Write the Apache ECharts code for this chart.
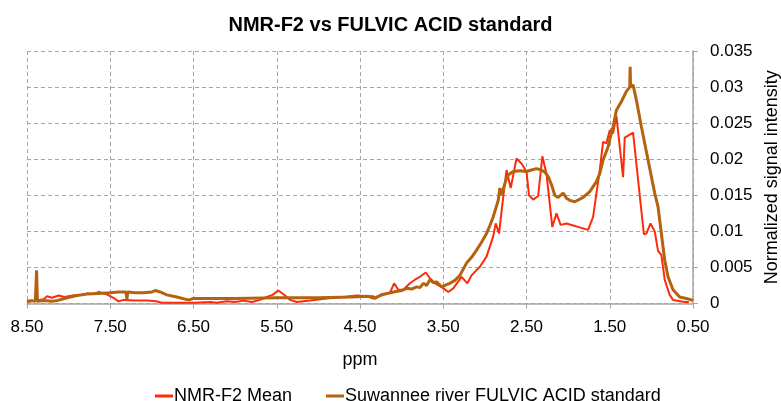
<!DOCTYPE html>
<html>
<head>
<meta charset="utf-8">
<script src="https://cdn.jsdelivr.net/npm/echarts@6/dist/echarts.min.js"></script>
<style>html,body{margin:0;padding:0;background:#fff}#c{width:781px;height:401px}</style>
</head>
<body>
<div id="c"></div>
<script>
var titleText = 'NMR-F2 vs FULVIC ACID standard';
var seriesNames = ['NMR-F2 Mean', 'Suwannee river FULVIC ACID standard'];
var xName = 'ppm';
var yName = 'Normalized signal intensity';

var redPpm = [8.50,8.40,8.30,8.26,8.20,8.12,8.05,7.95,7.85,7.78,7.70,7.64,7.58,7.53,7.45,7.40,7.34,7.20,7.05,6.95,6.88,6.70,6.50,6.30,6.22,6.10,6.00,5.90,5.80,5.70,5.62,5.55,5.48,5.40,5.34,5.26,5.10,4.90,4.70,4.54,4.40,4.34,4.31,4.24,4.14,4.09,4.04,3.98,3.90,3.84,3.78,3.71,3.66,3.60,3.52,3.44,3.38,3.28,3.21,3.16,3.06,2.98,2.90,2.87,2.83,2.77,2.74,2.69,2.62,2.56,2.50,2.47,2.42,2.36,2.31,2.26,2.19,2.14,2.09,2.02,1.76,1.70,1.62,1.58,1.54,1.50,1.46,1.42,1.34,1.32,1.22,1.09,1.06,1.01,0.96,0.92,0.88,0.84,0.78,0.74,0.60,0.55];
var redVal = [0.0002,0.0004,0.0006,0.0010,0.0008,0.0011,0.0009,0.0011,0.0012,0.0014,0.0013,0.0016,0.0014,0.0012,0.0007,0.0003,0.0005,0.0004,0.0004,0.0003,0.0001,0.0001,0.0001,0.0002,0.0001,0.0003,0.0002,0.0004,0.0002,0.0005,0.0009,0.0012,0.0018,0.0011,0.0005,0.0002,0.0004,0.0007,0.0009,0.0011,0.0010,0.0010,0.0007,0.0013,0.0015,0.0028,0.0019,0.0019,0.0028,0.0033,0.0037,0.0043,0.0035,0.0028,0.0023,0.0016,0.0021,0.0037,0.0028,0.0039,0.0051,0.0065,0.0093,0.0111,0.0097,0.0157,0.0185,0.0160,0.0201,0.0194,0.0183,0.0150,0.0144,0.0149,0.0204,0.0180,0.0106,0.0125,0.0109,0.0111,0.0102,0.0120,0.0185,0.0224,0.0222,0.0240,0.0236,0.0260,0.0175,0.0230,0.0237,0.0096,0.0097,0.0111,0.0100,0.0073,0.0067,0.0033,0.0012,0.0005,0.0002,0.0002];

var brownPpm = [8.50,8.45,8.40,8.385,8.375,8.30,8.20,8.14,8.05,7.98,7.90,7.78,7.65,7.50,7.40,7.31,7.30,7.29,7.20,7.10,7.00,6.96,6.90,6.82,6.70,6.60,6.55,6.50,6.00,5.50,5.00,4.60,4.40,4.33,4.26,4.20,4.10,4.00,3.94,3.88,3.82,3.78,3.74,3.70,3.66,3.62,3.58,3.52,3.46,3.42,3.36,3.30,3.22,3.16,3.10,3.04,2.98,2.94,2.90,2.84,2.82,2.80,2.78,2.75,2.72,2.66,2.58,2.50,2.44,2.38,2.32,2.28,2.24,2.20,2.16,2.12,2.06,2.02,1.98,1.92,1.82,1.74,1.66,1.62,1.58,1.52,1.50,1.46,1.42,1.36,1.30,1.26,1.255,1.25,1.22,1.18,1.12,1.04,0.96,0.92,0.88,0.84,0.80,0.74,0.66,0.58,0.52,0.50];
var brownVal = [0.0003,0.0004,0.0003,0.0046,0.0003,0.0004,0.0003,0.0004,0.0007,0.0009,0.0011,0.0013,0.0014,0.0015,0.0016,0.0016,0.0005,0.0016,0.0015,0.0015,0.0016,0.0018,0.0016,0.0012,0.0009,0.0006,0.0005,0.0007,0.0007,0.0008,0.0008,0.0009,0.0010,0.0007,0.0011,0.0013,0.0016,0.0018,0.0021,0.0020,0.0023,0.0022,0.0028,0.0025,0.0033,0.0029,0.0030,0.0023,0.0026,0.0028,0.0032,0.0039,0.0056,0.0064,0.0074,0.0085,0.0097,0.0108,0.0120,0.0143,0.0160,0.0150,0.0148,0.0170,0.0178,0.0183,0.0184,0.0183,0.0185,0.0187,0.0185,0.0182,0.0176,0.0165,0.0150,0.0147,0.0153,0.0146,0.0143,0.0141,0.0147,0.0155,0.0169,0.0180,0.0199,0.0217,0.0227,0.0245,0.0268,0.0280,0.0294,0.0300,0.0328,0.0300,0.0303,0.0282,0.0245,0.0199,0.0153,0.0134,0.0097,0.0060,0.0037,0.0019,0.0009,0.0007,0.0005,0.0004];

function zip(a, b) { return a.map(function (v, i) { return [v, b[i]]; }); }

var FONT = 'Liberation Sans';
var chart = echarts.init(document.getElementById('c'), null, { renderer: 'canvas' });
chart.setOption({
  animation: false,
  backgroundColor: '#ffffff',
  title: {
    text: titleText, left: 'center', top: 10,
    textStyle: { fontFamily: FONT, fontSize: 20, fontWeight: 'bold', color: '#000' }
  },
  legend: {
    top: 382, left: 150, icon: 'rect', itemWidth: 18, itemHeight: 3, itemGap: 34,
    textStyle: { fontFamily: FONT, fontSize: 18, color: '#000', padding: [0,0,0,-4] },
    data: seriesNames
  },
  grid: { left: 27, right: 88, top: 51, bottom: 97.5, containLabel: false, outerBoundsMode: 'none' },
  xAxis: {
    type: 'value', inverse: true, min: 0.5, max: 8.5, interval: 1,
    name: xName, nameLocation: 'middle', nameGap: 48,
    nameTextStyle: { fontFamily: FONT, fontSize: 18, color: '#000' },
    axisLine: { show: true, lineStyle: { color: '#a6a6a6', width: 1.5 } },
    axisTick: { show: true, length: 5, lineStyle: { color: '#a6a6a6' } },
    axisLabel: { fontFamily: FONT, fontSize: 17, color: '#000', margin: 15, formatter: function (v) { return v.toFixed(2); } },
    splitLine: { show: true, lineStyle: { color: '#a6a6a6', type: [4, 3], width: 1 } }
  },
  yAxis: {
    type: 'value', position: 'right', min: 0, max: 0.035, interval: 0.005,
    name: yName, nameLocation: 'middle', nameGap: 58, nameRotate: 90,
    nameTextStyle: { fontFamily: FONT, fontSize: 18, color: '#000' },
    axisLine: { show: true, lineStyle: { color: '#a6a6a6', width: 1.5 } },
    axisTick: { show: true, length: 5, lineStyle: { color: '#a6a6a6' } },
    axisLabel: { fontFamily: FONT, fontSize: 17, color: '#000', margin: 17, formatter: function (v) { return String(parseFloat(v.toFixed(3))); } },
    splitLine: { show: true, lineStyle: { color: '#a6a6a6', type: [4, 3], width: 1 } }
  },
  series: [
    {
      name: seriesNames[0], type: 'line', data: zip(redPpm, redVal), showSymbol: false, symbol: 'none',
      lineStyle: { color: '#ff2a0a', width: 2 }, itemStyle: { color: '#ff2a0a' }, z: 2
    },
    {
      name: seriesNames[1], type: 'line', data: zip(brownPpm, brownVal), showSymbol: false, symbol: 'none',
      lineStyle: { color: '#b3620d', width: 3 }, itemStyle: { color: '#b3620d' }, z: 3
    }
  ]
});
</script>
</body>
</html>
